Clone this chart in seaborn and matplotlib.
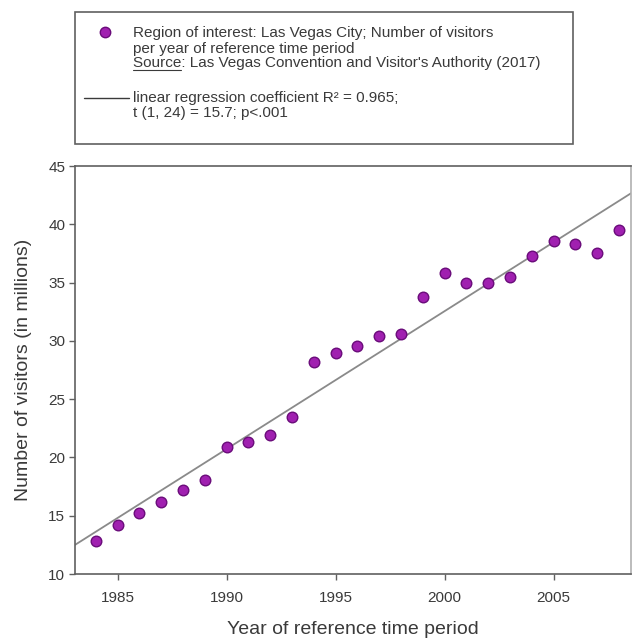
import matplotlib
matplotlib.use("Agg")
import matplotlib.pyplot as plt
from matplotlib.lines import Line2D
from matplotlib.patches import Rectangle
import seaborn as sns
import pandas as pd

# Annual visitors to Las Vegas (millions), LVCVA
years = [1984, 1985, 1986, 1987, 1988, 1989, 1990, 1991, 1992, 1993, 1994, 1995,
         1996, 1997, 1998, 1999, 2000, 2001, 2002, 2003, 2004, 2005, 2006, 2007, 2008]
visitors = [12.8, 14.2, 15.2, 16.2, 17.2, 18.1, 20.9, 21.3, 21.9, 23.5, 28.2, 29.0,
            29.6, 30.4, 30.6, 33.8, 35.8, 35.0, 35.0, 35.5, 37.3, 38.6, 38.3, 37.5, 39.5]
x_ticks = [1985, 1990, 1995, 2000, 2005]
y_ticks = [10, 15, 20, 25, 30, 35, 40, 45]

legend_points = ["Region of interest: Las Vegas City; Number of visitors",
                 "per year of reference time period",
                 "Source: Las Vegas Convention and Visitor's Authority (2017)"]
legend_fit = ["linear regression coefficient R\u00b2 = 0.965;",
              "t (1, 24) = 15.7; p<.001"]

df = pd.DataFrame({"year": years, "visitors": visitors})

sns.set_theme(style="white")
plt.rcParams["font.family"] = ["Liberation Sans", "DejaVu Sans"]

W, H = 635, 641
fig = plt.figure(figsize=(W / 100, H / 100), dpi=100)
ax = fig.add_axes([75 / W, 1 - 574 / H, (631 - 75) / W, (574 - 166) / H])

point_color = "#A020B0"
point_edge = "#6A0C7A"
ink = "#3a3a3a"
spine_c = "#606060"

ax.set_xlim(1983.05, 2008.55)
ax.set_ylim(10, 45)

sns.regplot(data=df, x="year", y="visitors", ax=ax, scatter=False, ci=None,
            truncate=False, line_kws=dict(color="#8a8a8a", lw=1.3))
sns.scatterplot(data=df, x="year", y="visitors", ax=ax, color=point_color,
                edgecolor=point_edge, linewidth=1.0, s=58, zorder=3)

ax.set_xticks(x_ticks)
ax.set_yticks(y_ticks)
ax.tick_params(axis="both", which="major", direction="out", length=4,
               width=1, color=spine_c, labelsize=11, labelcolor=ink)
ax.tick_params(axis="x", pad=8)
ax.tick_params(axis="y", pad=3)
ax.xaxis.set_ticks_position("bottom")
ax.yaxis.set_ticks_position("left")
for side, sp in ax.spines.items():
    sp.set_color(spine_c)
    sp.set_linewidth(1.2)
ax.spines["right"].set_color("#b0b0b0")
ax.set_xlabel("Year of reference time period", fontsize=14, color=ink, labelpad=12)
ax.set_ylabel("Number of visitors (in millions)", fontsize=14, color=ink, labelpad=12)


def fx(px):
    return px / W


def fy(py):
    return 1 - py / H


# Legend box drawn on the figure
fig.patches.append(Rectangle((fx(75), fy(144)), fx(573) - fx(75), fy(12) - fy(144),
                             transform=fig.transFigure, fill=False,
                             edgecolor=spine_c, lw=1.2))
fig.lines.append(Line2D([fx(105)], [fy(32)], transform=fig.transFigure, marker="o",
                        markersize=7.5, markerfacecolor=point_color,
                        markeredgecolor=point_edge, markeredgewidth=1.0, ls="none"))
fig.lines.append(Line2D([fx(84), fx(129)], [fy(98), fy(98)], transform=fig.transFigure,
                        color=ink, lw=1.0))

tx = fx(133)
leg_fs = 11
for label, py in zip(legend_points, [37.5, 52.5, 67.5]):
    fig.text(tx, fy(py), label, fontsize=leg_fs, color=ink, va="baseline", ha="left")
for label, py in zip(legend_fit, [102, 117.5]):
    fig.text(tx, fy(py), label, fontsize=leg_fs, color=ink, va="baseline", ha="left")

# Underline the word "Source"
fig.canvas.draw()
renderer = fig.canvas.get_renderer()
probe = fig.text(tx, fy(67.5), "Source", fontsize=leg_fs, va="baseline", ha="left")
bb = probe.get_window_extent(renderer)
probe.remove()
y_ul = fy(69.5)
fig.lines.append(Line2D([tx, tx + bb.width / fig.bbox.width], [y_ul, y_ul],
                        transform=fig.transFigure, color=ink, lw=0.8))

fig.savefig("out.png", dpi=100)
